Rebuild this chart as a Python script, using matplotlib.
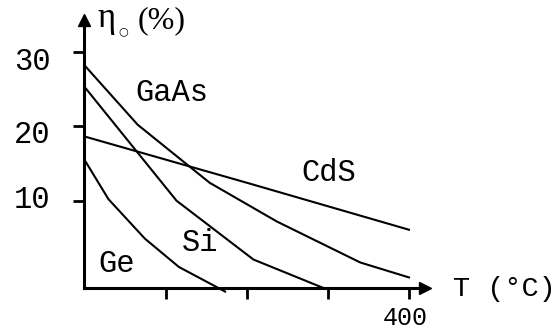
import matplotlib
matplotlib.use("Agg")
import matplotlib.pyplot as plt

# curvas de eficiencia vs temperatura
gaas_t = [0, 65, 154, 237, 340, 400]
gaas_eta = [28.1, 20.2, 12.4, 7.2, 1.7, -0.3]

si_t = [0, 113, 208, 294]
si_eta = [25.2, 10.0, 2.1, -1.7]

ge_t = [1, 29, 74, 116, 173]
ge_eta = [15.2, 10.2, 4.9, 1.1, -2.2]

cds_t = [0, 200, 400]
cds_eta = [18.6, 12.4, 6.1]

y_ticks = [10, 20, 30]
x_ticks = [100, 200, 300, 400]

mono = "Liberation Mono"

fig = plt.figure(figsize=(5.57, 3.29), dpi=100)
ax = fig.add_axes([84 / 557, 41 / 329, (425 - 84) / 557, (288 - 20) / 329])
ax.set_xlim(-1.2, 419.8)
ax.set_ylim(-1.72, 34.25)

for t, eta in [(gaas_t, gaas_eta), (si_t, si_eta), (ge_t, ge_eta), (cds_t, cds_eta)]:
    ax.plot(t, eta, color="black", lw=1.5, clip_on=False, solid_joinstyle="miter")

# ejes con flechas
for side in ["top", "right"]:
    ax.spines[side].set_visible(False)
for side in ["left", "bottom"]:
    ax.spines[side].set_linewidth(2.2)
ax.plot(1, 0, ">k", ms=8, transform=ax.transAxes, clip_on=False)
ax.plot(0, 1, "^k", ms=8, transform=ax.transAxes, clip_on=False)

ax.set_yticks(y_ticks)
ax.set_xticks(x_ticks)
ax.tick_params(length=8, width=2, labelleft=False, labelbottom=False)

# etiquetas de los ejes (desplazadas como en el dibujo original)
ylab_pos = {30: 28.6, 20: 18.8, 10: 10.1}
for v in y_ticks:
    ax.text(-65, ylab_pos[v], str(v), ha="center", va="center",
            fontsize=22, family=mono, clip_on=False)
ax.text(396, -5.68, "400", ha="center", va="center", fontsize=18,
        family=mono, clip_on=False)

ax.text(16, 33.3, "η", ha="left", va="baseline", fontsize=25,
        family=["Liberation Serif", "DejaVu Serif"])
ax.text(47, 32.7, "\u25cb", ha="center", va="center", fontsize=8,
        family=["DejaVu Sans"])
ax.text(65, 33.2, "(%)", ha="left", va="baseline", fontsize=23,
        family=["Liberation Serif"])
ax.text((453 - 85) / 0.81, -1.8, "T (°C)", ha="left", va="center",
        fontsize=20.5, family=mono, clip_on=False)

ax.text(61.7, 24.5, "GaAs", ha="left", va="center", fontsize=22, family=mono)
ax.text(267.5, 13.7, "CdS", ha="left", va="center", fontsize=22, family=mono)
ax.text(119.4, 4.36, "Si", ha="left", va="center", fontsize=22, family=mono)
ax.text(16, 1.5, "Ge", ha="left", va="center", fontsize=22, family=mono)

fig.savefig("out.png", dpi=100)
